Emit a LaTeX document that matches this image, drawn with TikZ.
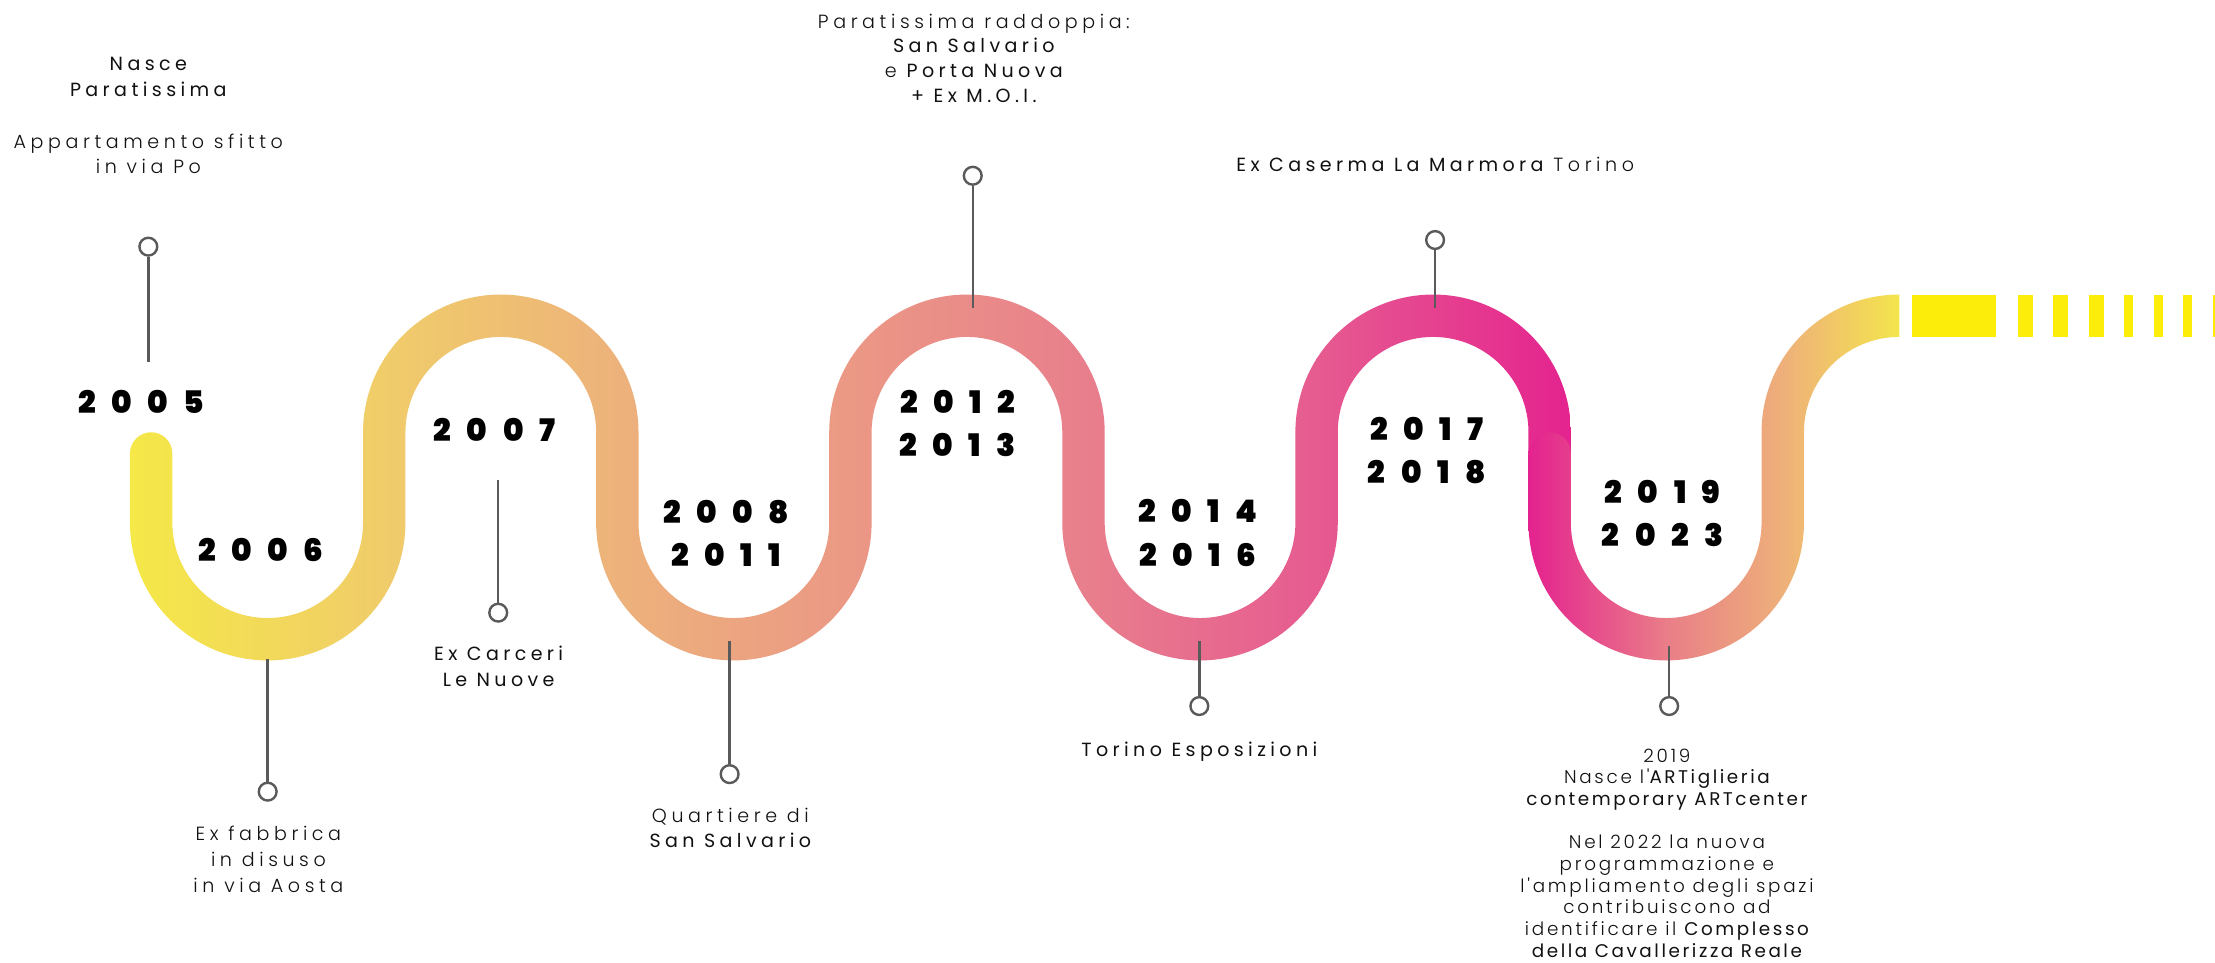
\documentclass[tikz,border=0pt]{standalone}
\usepackage{fontspec}
\setmainfont{Poppins}
\newfontfamily\lightf{Poppins Light}[LetterSpace=24]
\newfontfamily\medf{Poppins}[LetterSpace=23]
\newfontfamily\lightg{Poppins Light}[LetterSpace=15]
\newfontfamily\medg{Poppins}[LetterSpace=14]
\newfontfamily\yearf{Poppins Black}
\definecolor{cA0}{HTML}{F5EA45}
\definecolor{cA1}{HTML}{F0CC6A}
\definecolor{cA2}{HTML}{EDB27B}
\definecolor{cA3}{HTML}{EB9885}
\definecolor{cA4}{HTML}{E87F8C}
\definecolor{cA5}{HTML}{E65B90}
\definecolor{cA6}{HTML}{E4228F}
\definecolor{cB0}{HTML}{E4208F}
\definecolor{cB1}{HTML}{E97E88}
\definecolor{cB2}{HTML}{EEB07A}
\definecolor{cB3}{HTML}{F4E64C}
\definecolor{ylw}{HTML}{FCEE0A}
\definecolor{pincol}{HTML}{5A5A5A}
\definecolor{txt}{HTML}{111111}
\newlength\ys \setlength\ys{11pt}
\newcommand\yr[4]{#1\hspace{\ys}#2\hspace{\ys}#3\hspace{\ys}#4}
\begin{document}
\begin{tikzpicture}[x=1pt,y=-1pt,
  lbl/.style={align=center, font=\fontsize{13.5}{18.2}\lightf, text=txt, inner sep=0pt, anchor=base},
  lblb/.style={lbl, font=\fontsize{13}{15.35}\lightg},
  yrs/.style={align=center, font=\fontsize{22}{30.7}\yearf, text=black, inner sep=0pt, anchor=base},
  pinline/.style={draw=pincol, line width=1.7pt},
  pinhead/.style={circle, draw=pincol, line width=1.7pt, fill=white, minimum size=12.6pt, inner sep=0pt},
  ybar/.style={fill=ylw, draw=none}]
\useasboundingbox (0,0) rectangle (1568,681);
\fill[white] (0,0) rectangle (1568,681);

% ---- wave, first stroke
\begin{scope}
\clip (122,321) -- (122,370) arc[start angle=180,end angle=0,radius=67.5]
  -- (257,306) arc[start angle=180,end angle=360,radius=97.5]
  -- (452,370) arc[start angle=180,end angle=0,radius=67.5]
  -- (587,306) arc[start angle=180,end angle=360,radius=97.5]
  -- (782,370) arc[start angle=180,end angle=0,radius=67.5]
  -- (917,306) arc[start angle=180,end angle=360,radius=97.5]
  -- (1112,326) -- (1082,326)
  -- (1082,306) arc[start angle=360,end angle=180,radius=67.5]
  -- (947,370) arc[start angle=0,end angle=180,radius=97.5]
  -- (752,306) arc[start angle=360,end angle=180,radius=67.5]
  -- (617,370) arc[start angle=0,end angle=180,radius=97.5]
  -- (422,306) arc[start angle=360,end angle=180,radius=67.5]
  -- (287,370) arc[start angle=0,end angle=180,radius=97.5]
  -- (92,321) arc[start angle=180,end angle=360,radius=15] -- cycle;
\shade[left color=cA0,right color=cA1] (80,190) rectangle (272.5,480);
\shade[left color=cA1,right color=cA2] (272,190) rectangle (437.5,480);
\shade[left color=cA2,right color=cA3] (437,190) rectangle (602.5,480);
\shade[left color=cA3,right color=cA4] (602,190) rectangle (767.5,480);
\shade[left color=cA4,right color=cA5] (767,190) rectangle (932.5,480);
\shade[left color=cA5,right color=cA6] (932,190) rectangle (1115,480);
\end{scope}

% ---- wave, second stroke
\begin{scope}
\clip (1112,321) -- (1112,370) arc[start angle=180,end angle=0,radius=67.5]
  -- (1247,306) arc[start angle=180,end angle=270,radius=97.5]
  -- (1344.5,238.5) arc[start angle=270,end angle=180,radius=67.5]
  -- (1277,370) arc[start angle=0,end angle=180,radius=97.5]
  -- (1082,321) arc[start angle=180,end angle=360,radius=15] -- cycle;
\shade[left color=cB0,right color=cB1] (1080,190) rectangle (1180.5,480);
\shade[left color=cB1,right color=cB2] (1180,190) rectangle (1262.5,480);
\shade[left color=cB2,right color=cB3] (1262,190) rectangle (1346,480);
\end{scope}

% ---- yellow dashes
\fill[ybar] (1353.5,208.6) rectangle (1413,238.6);
\fill[ybar] (1428.5,208.6) rectangle (1439,238.6);
\fill[ybar] (1453.5,208.6) rectangle (1464,238.6);
\fill[ybar] (1479,208.6) rectangle (1489.5,238.6);
\fill[ybar] (1503.5,208.6) rectangle (1510,238.6);
\fill[ybar] (1525,208.6) rectangle (1531,238.6);
\fill[ybar] (1545.5,208.6) rectangle (1551.7,238.6);
\fill[ybar] (1566.5,208.6) rectangle (1570,238.6);

% ---- pins
\node[pinhead] (m1) at (105,174.6) {};
\coordinate (e1) at (105,256);
\draw[pinline] (m1.south) -- (e1);
\node[pinhead] (m2) at (189.5,560.4) {};
\coordinate (e2) at (189.5,466.5);
\draw[pinline] (m2.north) -- (e2);
\node[pinhead] (m3) at (352.7,433.7) {};
\coordinate (e3) at (352.7,340);
\draw[pinline] (m3.north) -- (e3);
\node[pinhead] (m4) at (516.5,548) {};
\coordinate (e4) at (516.5,454);
\draw[pinline] (m4.north) -- (e4);
\node[pinhead] (m5) at (688.6,124.4) {};
\coordinate (e5) at (688.6,218.3);
\draw[pinline] (m5.south) -- (e5);
\node[pinhead] (m6) at (849,499.8) {};
\coordinate (e6) at (849,453.8);
\draw[pinline] (m6.north) -- (e6);
\node[pinhead] (m7) at (1015.9,169.9) {};
\coordinate (e7) at (1015.9,218.3);
\draw[pinline] (m7.south) -- (e7);
\node[pinhead] (m8) at (1181.6,499.8) {};
\coordinate (e8) at (1181.6,457);
\draw[pinline] (m8.north) -- (e8);

% ---- years (anchor = baseline of last line)
\node[yrs] (y05) at (100,292.5) {\yr2005};
\node[yrs] (y06) at (184.5,397.6) {\yr2006};
\node[yrs] (y07) at (350,312.7) {\yr2007};
\node[yrs] (y08) at (514,401.2) {\yr2008\\\yr2011};
\node[yrs] (y12) at (678,323.5) {\yr2012\\\yr2013};
\node[yrs] (y14) at (848,400.7) {\yr2014\\\yr2016};
\node[yrs] (y17) at (1010,342.6) {\yr2017\\\yr2018};
\node[yrs] (y19) at (1177,387) {\yr2019\\\yr2023};

% ---- labels (anchor = baseline of last line)
\node[lbl] (t1) at (105,123) {{\medf Nasce}\\{\medf Paratissima}\\[18.2pt]Appartamento sfitto\\in via Po};
\node[lbl] (t2) at (190,631.7) {Ex fabbrica\\in disuso\\in via Aosta};
\node[lbl] (t3) at (353,486.1) {{\medf Ex Carceri}\\{\medf Le Nuove}};
\node[lbl] (t4) at (517,600.1) {Quartiere di\\{\medf San Salvario}};
\node[lbl, font=\fontsize{13.5}{17.6}\lightf] (t5) at (689.4,72.7) {Paratissima raddoppia:\\{\medf San Salvario}\\e {\medf Porta Nuova}\\{\medf + Ex M.O.I.}};
\node[lbl] (t6) at (849,535.2) {{\medf Torino Esposizioni}};
\node[lbl] (t7) at (1016,121.5) {{\medf Ex Caserma La Marmora} Torino};
\node[lblb] (t8) at (1180,677.7) {2019\\Nasce l'{\medg ARTiglieria}\\{\medg contemporary ARTcenter}\\[15.35pt]Nel 2022 la nuova\\programmazione e\\l'ampliamento degli spazi\\contribuiscono ad\\identificare il {\medg Complesso}\\{\medg della Cavallerizza Reale}};
\end{tikzpicture}
\end{document}
